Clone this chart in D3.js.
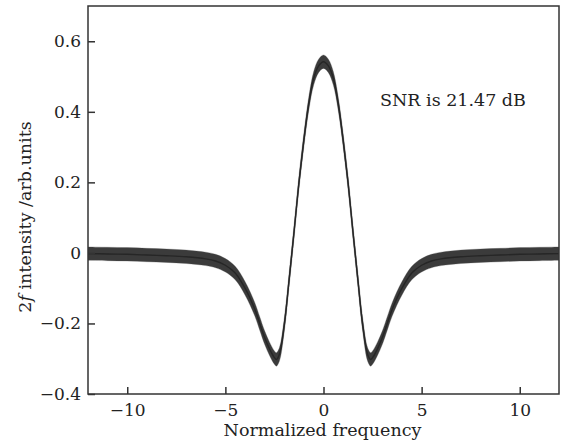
<!DOCTYPE html>
<html>
<head>
<meta charset="utf-8">
<script src="https://cdn.jsdelivr.net/npm/d3@7"></script>
<style>
  body { margin: 0; background: #fff; }
  svg text { font-family: "DejaVu Serif", serif; fill: #222; }
</style>
</head>
<body>
<div id="chart"></div>
<script>
// frequency points (normalized units)
var freq = [-12, -11, -10, -9, -8, -7, -6, -5.5, -5, -4.5, -4, -3.5, -3.25, -3, -2.75,
            -2.5, -2.4, -2.25, -2, -1.75, -1.5, -1.25, -1, -0.75, -0.5, -0.25, 0,
            0.25, 0.5, 0.75, 1, 1.25, 1.5, 1.75, 2, 2.25, 2.4, 2.5, 2.75, 3, 3.25,
            3.5, 4, 4.5, 5, 5.5, 6, 7, 8, 9, 10, 11, 12];
// 2f signal, band centre
var signal = [-0.002, -0.003, -0.004, -0.006, -0.008, -0.011, -0.017, -0.023, -0.035, -0.057, -0.100, -0.160, -0.200, -0.240, -0.272,
              -0.297, -0.302, -0.288, -0.205, -0.075, 0.060, 0.200, 0.320, 0.423, 0.495, 0.530, 0.542,
              0.530, 0.495, 0.423, 0.320, 0.200, 0.060, -0.075, -0.205, -0.288, -0.302, -0.297, -0.272, -0.240, -0.200,
              -0.160, -0.100, -0.057, -0.035, -0.023, -0.017, -0.011, -0.008, -0.006, -0.004, -0.003, -0.002];
// half width of the noise band (arb. units)
var noise = 0.019;

var xTicks = [-10, -5, 0, 5, 10];
var yTicks = [-0.4, -0.2, 0, 0.2, 0.4, 0.6];

var width = 562,
    height = 446,
    margin = {top: 6, right: 3, bottom: 52, left: 88};

var svg = d3.select('#chart').append('svg')
  .attr('width', width)
  .attr('height', height);

var x = d3.scaleLinear().domain([-12, 12]).range([margin.left, width - margin.right]);
var y = d3.scaleLinear().domain([-0.4, 0.7]).range([height - margin.bottom, margin.top]);

var pts = freq.map(function(f, i) { return {f: f, v: signal[i]}; });

svg.append('clipPath').attr('id', 'plot')
  .append('rect')
  .attr('x', margin.left).attr('y', margin.top)
  .attr('width', x.range()[1] - margin.left)
  .attr('height', y.range()[0] - margin.top);

var g = svg.append('g').attr('clip-path', 'url(#plot)');

// noisy band
g.append('path')
  .datum(pts)
  .attr('fill', '#2a2a2a')
  .attr('fill-opacity', 0.92)
  .attr('stroke', '#555')
  .attr('stroke-width', 0.6)
  .attr('stroke-opacity', 0.5)
  .attr('d', d3.area()
    .x(function(d) { return x(d.f); })
    .y0(function(d) { return y(d.v - noise); })
    .y1(function(d) { return y(d.v + noise); })
    .curve(d3.curveCatmullRom));

// centre line
g.append('path')
  .datum(pts)
  .attr('fill', 'none')
  .attr('stroke', '#262626')
  .attr('stroke-width', 1.4)
  .attr('d', d3.line()
    .x(function(d) { return x(d.f); })
    .y(function(d) { return y(d.v); })
    .curve(d3.curveCatmullRom));

// frame
svg.append('rect')
  .attr('x', margin.left).attr('y', margin.top)
  .attr('width', x.range()[1] - margin.left)
  .attr('height', y.range()[0] - margin.top)
  .attr('fill', 'none')
  .attr('stroke', '#333')
  .attr('stroke-width', 1.5);

// axes, ticks inward
var xAxis = svg.append('g')
  .attr('transform', 'translate(0,' + y.range()[0] + ')')
  .call(d3.axisBottom(x).tickValues(xTicks).tickSizeInner(-7).tickSizeOuter(0).tickPadding(10));
var yAxis = svg.append('g')
  .attr('transform', 'translate(' + margin.left + ',0)')
  .call(d3.axisLeft(y).tickValues(yTicks).tickSizeInner(-7).tickSizeOuter(0).tickPadding(7)
    .tickFormat(function(d) { return d === 0 ? '0' : d3.format('.1f')(d).replace('-', '\u2212'); }));

[xAxis, yAxis].forEach(function(a) {
  a.select('.domain').remove();
  a.selectAll('line').attr('stroke', '#333').attr('stroke-width', 1.5);
  a.selectAll('text').style('font-size', '17px').attr('fill', '#222');
});

// axis titles
svg.append('text')
  .attr('x', x(0) - 1).attr('y', 436)
  .attr('text-anchor', 'middle')
  .style('font-size', '17.5px')
  .text('Normalized frequency');

var yt = svg.append('text')
  .attr('transform', 'translate(31,' + 217 + ') rotate(-90)')
  .attr('text-anchor', 'middle')
  .style('font-size', '17.5px');
yt.append('tspan').text('2');
yt.append('tspan').style('font-style', 'italic').text('f');
yt.append('tspan').text(' intensity /arb.units');

// annotation
svg.append('text')
  .attr('x', 380).attr('y', 106)
  .style('font-size', '17.5px')
  .text('SNR is 21.47 dB');
</script>
</body>
</html>
